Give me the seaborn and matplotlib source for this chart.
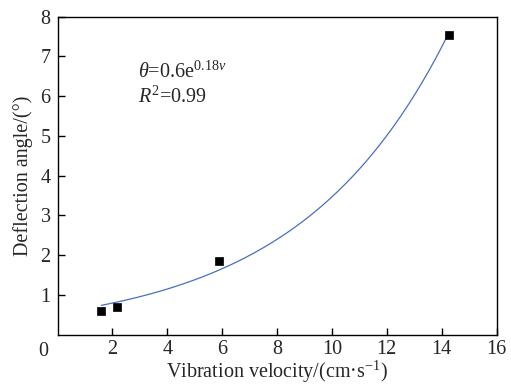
import numpy as np
import pandas as pd
import matplotlib
matplotlib.use('Agg')
import matplotlib.pyplot as plt
import seaborn as sns

# Measured points
velocity = [1.6, 2.17, 5.87, 14.28]
deflection = [0.60, 0.69, 1.85, 7.53]

# Exponential fit theta = a * exp(b * v), as drawn in the figure
fit_a = 0.55
fit_b = 0.184

x_ticks = [2, 4, 6, 8, 10, 12, 14, 16]
y_ticks = [1, 2, 3, 4, 5, 6, 7, 8]

sns.set_style('ticks')
plt.rcParams['font.family'] = ['Liberation Serif', 'DejaVu Serif']
plt.rcParams['mathtext.fontset'] = 'custom'
plt.rcParams['mathtext.rm'] = 'Liberation Serif'
plt.rcParams['mathtext.it'] = 'Liberation Serif:italic'
plt.rcParams['xtick.direction'] = 'in'
plt.rcParams['ytick.direction'] = 'in'

points = pd.DataFrame({'v': velocity, 'theta': deflection})
v_fit = np.linspace(min(velocity), max(velocity), 200)
curve = pd.DataFrame({'v': v_fit, 'theta': fit_a * np.exp(fit_b * v_fit)})

fig = plt.figure(figsize=(5.11, 3.85), dpi=100)
ax = fig.add_axes([57.5 / 511, 1 - 334.7 / 385, 439 / 511, 318.2 / 385])

sns.lineplot(data=curve, x='v', y='theta', ax=ax, color='#4a6fc0', linewidth=0.9)
sns.scatterplot(data=points, x='v', y='theta', ax=ax, marker='s', s=36,
                color='black', edgecolor='black', linewidth=0.5, zorder=3)

ax.set_xlim(0, 16)
ax.set_ylim(0, 8)
ax.set_xticks(x_ticks)
ax.set_yticks(y_ticks)
ax.tick_params(labelsize=14.5, length=5, width=1, color='black', pad=5)
ax.tick_params(axis='x', pad=3.5)
for s in ax.spines.values():
    s.set_visible(True)
    s.set_color('black')
    s.set_linewidth(1)

ax.text(-0.033, -0.024, '0', transform=ax.transAxes, fontsize=14.5,
        ha='center', va='top')

ax.set_xlabel('Vibration velocity/(cm·s$^{-1}$)', fontsize=14.5, labelpad=0)
ax.set_ylabel('Deflection angle/(°)', fontsize=14.5, labelpad=5)

ax.text(2.93, 6.47, r'$\mathit{\theta}$=0.6e$^{0.18\mathit{v}}$', fontsize=14.5,
        va='baseline')
ax.text(2.93, 5.84, r'$\mathit{R}^{2}$=0.99', fontsize=14.5, va='baseline')

fig.savefig('out.png', dpi=100)
